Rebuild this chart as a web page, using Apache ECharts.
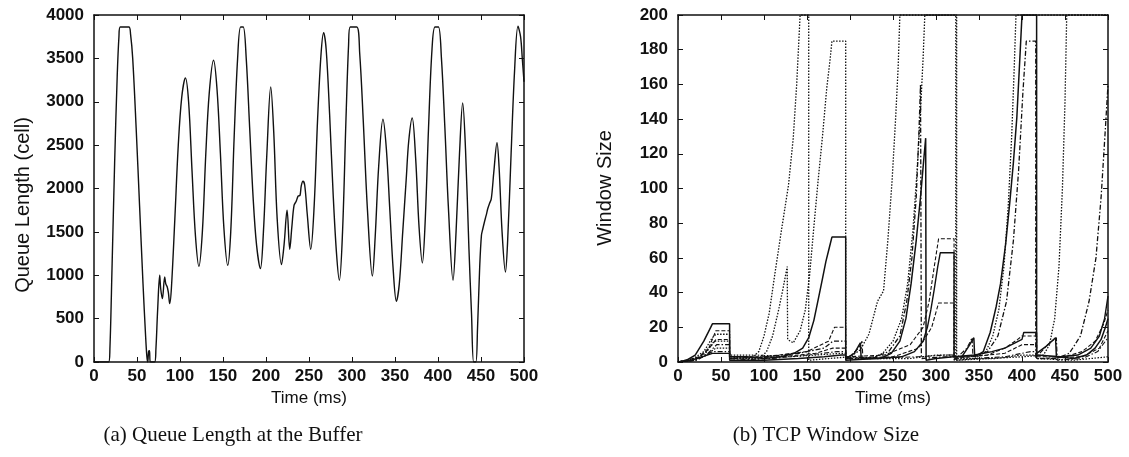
<!DOCTYPE html>
<html>
<head>
<meta charset="utf-8">
<script src="https://cdn.jsdelivr.net/npm/echarts@6/dist/echarts.min.js"></script>
<style>
  html, body { margin: 0; padding: 0; background: #fff; }
  #chart { width: 1129px; height: 457px; }
</style>
</head>
<body>
<div id="chart"></div>
<script>
// ---- Axis ticks ----
const timeTicks = [0, 50, 100, 150, 200, 250, 300, 350, 400, 450, 500];
const queueTicks = [0, 500, 1000, 1500, 2000, 2500, 3000, 3500, 4000];
const windowTicks = [0, 20, 40, 60, 80, 100, 120, 140, 160, 180, 200];

// ---- (a) Queue length at the buffer: [time ms, cells] ----
const queueLength = [
  [0,0],[17,0],[18.5,150],[21,1100],[24,2300],[27,3300],[29,3750],[30.5,3862],[40.5,3862],[42.5,3780],
  [45,3500],[49,2700],[53,1800],[57,900],[60,300],[61.5,60],[62.5,0],[63.5,120],[64.5,130],[65.5,0],
  [70.5,0],[72,150],[74,600],[76.4,1000],[77.5,850],[79.5,730],[82.2,980],[83.5,900],[85,870],
  [86.5,800],[88,673],[90,850],[94,1650],[98,2500],[102,3050],[106.3,3274],[110,3000],[114,2200],
  [118,1450],[122,1103],[126,1500],[130,2400],[134,3100],[139,3478],[143,3150],[147,2400],[151,1550],
  [155.5,1114],[159,1500],[163,2600],[167,3500],[170.5,3862],[173.5,3862],[177,3500],[181,2700],
  [185,1900],[189,1350],[193.5,1077],[197,1500],[201,2400],[205.5,3170],[209,2650],[213,1650],
  [218,1123],[221,1350],[224.5,1749],[227.6,1300],[230,1550],[232.6,1806],[235,1850],[237.5,1914],
  [239.5,1920],[241,2030],[243,2083],[245,2040],[248,1700],[252,1300],[256,1800],[260,2800],
  [264,3550],[267,3797],[270,3600],[274,2850],[278,1950],[282,1250],[285.3,942],[289,1500],
  [293,2800],[296,3650],[298,3862],[305.5,3862],[309,3550],[313,2800],[318,1750],[323.7,991],
  [327,1450],[331,2250],[336,2798],[340,2450],[344,1750],[348,1050],[351.6,700],[355,900],
  [359,1500],[363,2100],[366,2550],[370,2813],[374,2350],[378,1550],[381.8,1141],[385,1600],
  [389,2700],[393,3600],[396.5,3862],[400.5,3862],[404,3500],[408,2700],[412,1800],[417.5,942],
  [421,1500],[425,2400],[428.7,2986],[432,2450],[436,1300],[439,550],[441.5,0],[444,0],[446,400],
  [448.5,1100],[450.5,1460],[452,1530],[454,1614],[456,1690],[458,1772],[460,1830],[462,1883],
  [465,2200],[468.6,2529],[471,2250],[474.5,1500],[478.4,1037],[481,1400],[485,2400],[489,3350],
  [493,3870],[496,3750],[498,3500],[500,3230]
];

// ---- (b) TCP window size per flow: [time ms, window] ----
const flowSolidA = [
  [0,0],[10,1],[20,4],[30,12],[38,20],[40,22],[60,22],[60,3],[80,3],[100,2],[120,3],[135,5],[145,8],
  [152,14],[158,24],[163,36],[168,48],[172,58],[176,66],[179,72],[195,72],[195,2],[205,5],[212,11],
  [213,2],[235,2],[248,5],[258,12],[265,25],[271,45],[277,70],[282,95],[286,118],[288,129],[288.5,129],
  [288.5,1],[300,2],[320,3],[330,3],[338,9],[344,14],[345,3],[355,6],[363,17],[370,32],[375,45],
  [381,68],[386,93],[390,115],[394,141],[398,180],[400,200],[417,200],[417,5],[428,9],[439,14],
  [440,3],[460,2],[475,4],[485,8],[492,13],[497,20],[500,25]
];
const flowSolidB = [
  [0,0],[15,1],[28,3],[40,5],[60,5],[60,1],[100,1],[140,2],[170,3],[190,4],[195,4],[195,1],[230,2],
  [260,3],[275,6],[285,12],[290,20],[294,30],[298,42],[302,55],[305,63],[321,63],[321,3],[345,4],
  [365,6],[380,8],[392,11],[400,13],[402,17],[417,17],[417,4],[445,3],[465,4],[480,8],[490,15],
  [496,25],[500,38]
];
const flowDotA = [
  [0,0],[15,1],[30,6],[40,14],[44,16],[60,16],[60,3],[85,2],[94,6],[100,15],[106,28],[113,52],
  [120,75],[128.5,102],[134,129],[138,160],[142,200],[152,200],[152,1],[175,2],[200,3],[212,7],
  [222,16],[232,35],[239,41],[244,70],[249,105],[253,140],[256,170],[258,200],[323,200],[323,1],
  [345,2],[358,6],[366,15],[373,30],[379,55],[384,90],[388,130],[391,170],[393,200],[500,200]
];
const flowDotB = [
  [0,0],[18,1],[32,5],[42,12],[60,12],[60,2],[95,2],[103,6],[110,15],[117,30],[122,42],[127,55],
  [127.5,13],[134,11],[142,18],[148,30],[153,50],[158,78],[163,105],[168,130],[173,158],[177,175],
  [179,185],[195,185],[195,2],[225,2],[238,5],[250,12],[260,25],[267,45],[273,75],[278,110],
  [282,145],[285,175],[287,200],[324,200],[324,1],[360,2],[400,3],[425,4],[432,10],[438,25],
  [443,55],[447,100],[450,150],[452,200],[500,200]
];
const flowDashDotA = [
  [0,0],[20,1],[35,5],[45,10],[60,10],[60,2],[100,3],[140,5],[170,8],[180,12],[195,12],[195,2],
  [230,3],[245,6],[258,15],[266,35],[272,60],[277,95],[280,130],[282,160],[283,160],[283,2],
  [310,3],[340,3],[360,6],[372,15],[382,35],[390,70],[396,110],[401,155],[405,185],[416,185],
  [416,2],[440,2],[455,5],[468,15],[478,35],[486,60],[492,95],[497,135],[500,160]
];
const flowDashA = [
  [0,0],[20,1],[35,7],[44,18],[60,18],[60,3],[100,3],[150,6],[175,12],[182,20],[195,20],[195,3],
  [240,4],[270,10],[285,20],[292,35],[298,55],[303,71],[321,71],[321,3],[360,4],[380,8],[395,13],
  [400,15],[417,15],[417,3],[450,3],[470,6],[485,12],[495,22],[500,30]
];
const flowDashB = [
  [0,0],[25,3],[40,10],[44,13],[60,13],[60,2],[120,3],[160,5],[180,8],[195,8],[195,2],[250,3],
  [280,8],[295,20],[303,34],[321,34],[321,2],[380,5],[400,10],[417,10],[417,2],[470,3],[490,8],
  [500,18]
];
const flowDashDotB = [
  [0,0],[22,1],[40,6],[60,6],[60,1],[110,2],[150,4],[185,6],[195,6],[195,1],[210,8],[214,12],
  [215,2],[280,3],[310,4],[321,4],[321,1],[336,8],[342,14],[343,2],[380,3],[410,6],[417,6],
  [417,3],[430,10],[440,14],[441,1],[470,2],[488,6],[500,14]
];
const flowDotC = [
  [0,0],[30,3],[44,8],[60,8],[60,4],[90,4],[130,3],[160,4],[190,5],[195,5],[195,3],[230,2],
  [270,2],[300,4],[321,4],[321,2],[370,2],[400,4],[417,4],[417,2],[460,1],[500,3]
];

const tickFont = { fontFamily: 'Liberation Sans, Arial, sans-serif', fontSize: 17, fontWeight: 'bold', color: '#111' };
const xNameFont = { fontFamily: 'Liberation Sans, Arial, sans-serif', fontSize: 17, color: '#111' };
const plain = function (v) { return String(v); };

function bottomAxis(grid, ticks) {
  return {
    type: 'value', gridIndex: grid, position: 'bottom',
    min: ticks[0], max: ticks[ticks.length - 1], interval: ticks[1] - ticks[0],
    name: 'Time (ms)', nameLocation: 'middle', nameGap: 28, nameTextStyle: xNameFont,
    axisLine: { show: true, onZero: false, lineStyle: { color: '#111', width: 1.5 } },
    axisTick: { show: true, inside: true, length: 5, lineStyle: { color: '#111' } },
    axisLabel: Object.assign({ margin: 6, formatter: plain }, tickFont),
    splitLine: { show: false }
  };
}
function topAxis(grid, ticks) {
  return {
    type: 'value', gridIndex: grid, position: 'top',
    min: ticks[0], max: ticks[ticks.length - 1], interval: ticks[1] - ticks[0],
    axisLine: { show: true, onZero: false, lineStyle: { color: '#111', width: 1.5 } },
    axisTick: { show: true, inside: true, length: 5, lineStyle: { color: '#111' } },
    axisLabel: { show: false }, splitLine: { show: false }
  };
}
function leftAxis(grid, ticks) {
  return {
    type: 'value', gridIndex: grid, position: 'left',
    min: ticks[0], max: ticks[ticks.length - 1], interval: ticks[1] - ticks[0],
    axisLine: { show: true, onZero: false, lineStyle: { color: '#111', width: 1.5 } },
    axisTick: { show: true, inside: true, length: 5, lineStyle: { color: '#111' } },
    axisLabel: Object.assign({ margin: 10, formatter: plain }, tickFont),
    splitLine: { show: false }
  };
}
function rightAxis(grid, ticks) {
  return {
    type: 'value', gridIndex: grid, position: 'right',
    min: ticks[0], max: ticks[ticks.length - 1], interval: ticks[1] - ticks[0],
    axisLine: { show: true, onZero: false, lineStyle: { color: '#111', width: 1.5 } },
    axisTick: { show: true, inside: true, length: 5, lineStyle: { color: '#111' } },
    axisLabel: { show: false }, splitLine: { show: false }
  };
}

function flow(data, type, width) {
  return {
    type: 'line', xAxisIndex: 2, yAxisIndex: 2, data: data,
    showSymbol: false, symbol: 'none', clip: true, animation: false,
    lineStyle: { color: '#111', width: width, type: type }
  };
}

const yNameStyle = { font: '20px "Liberation Sans", Arial, sans-serif', fill: '#111', align: 'center', verticalAlign: 'middle' };
const captionFont = '21px "Liberation Serif", serif';

const chart = echarts.init(document.getElementById('chart'), null, { renderer: 'canvas' });
chart.setOption({
  backgroundColor: '#fff',
  animation: false,
  grid: [
    { left: 94, top: 15, width: 430, height: 347 },
    { left: 678, top: 15, width: 430, height: 347 }
  ],
  xAxis: [bottomAxis(0, timeTicks), topAxis(0, timeTicks), bottomAxis(1, timeTicks), topAxis(1, timeTicks)],
  yAxis: [leftAxis(0, queueTicks), rightAxis(0, queueTicks), leftAxis(1, windowTicks), rightAxis(1, windowTicks)],
  graphic: [
    { type: 'text', x: 23, y: 205, rotation: Math.PI / 2, style: Object.assign({ text: 'Queue Length (cell)' }, yNameStyle) },
    { type: 'text', x: 605, y: 188, rotation: Math.PI / 2, style: Object.assign({ text: 'Window Size' }, yNameStyle) },
    { type: 'text', x: 233, y: 435, style: { text: '(a) Queue Length at the Buffer', font: captionFont, fill: '#111', align: 'center', verticalAlign: 'middle' } },
    { type: 'text', x: 826, y: 435, style: { text: '(b) TCP Window Size', font: captionFont, fill: '#111', align: 'center', verticalAlign: 'middle' } }
  ],
  series: [
    {
      type: 'line', xAxisIndex: 0, yAxisIndex: 0, data: queueLength,
      smooth: 0.35, showSymbol: false, symbol: 'none', animation: false,
      lineStyle: { color: '#111', width: 1.4 }
    },
    flow(flowDotC, [1.5, 1.5], 1.2),
    flow(flowDashDotB, [5, 2, 1.5, 2], 1.1),
    flow(flowDashB, [4, 2], 1.1),
    flow(flowDashA, [4, 2], 1.1),
    flow(flowDashDotA, [5, 2, 1.5, 2], 1.3),
    flow(flowDotB, [1.5, 1.5], 1.3),
    flow(flowDotA, [1.5, 1.5], 1.3),
    flow(flowSolidB, 'solid', 1.4),
    flow(flowSolidA, 'solid', 1.5)
  ]
});
</script>
</body>
</html>
